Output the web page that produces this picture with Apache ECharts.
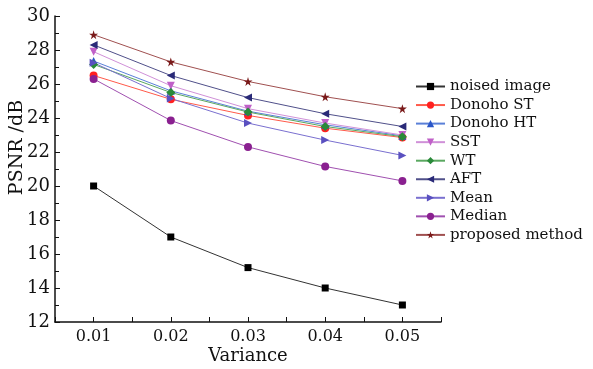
<!DOCTYPE html>
<html>
<head>
<meta charset="utf-8">
<script src="https://cdn.jsdelivr.net/npm/echarts@6/dist/echarts.min.js"></script>
<style>
  html, body { margin: 0; padding: 0; background: #fff; }
  #chart { width: 593px; height: 369px; }
</style>
</head>
<body>
<div id="chart"></div>
<script>
// variance levels on the x axis
const variances = [0.01, 0.02, 0.03, 0.04, 0.05];

// PSNR (dB) per method
const noisedImage = [20.0, 17.0, 15.2, 14.0, 13.0];
const donohoST = [26.5, 25.1, 24.15, 23.4, 22.85];
const donohoHT = [27.35, 25.6, 24.4, 23.6, 22.95];
const sst = [27.9, 25.9, 24.55, 23.7, 23.0];
const wt = [27.15, 25.5, 24.35, 23.5, 22.9];
const aft = [28.3, 26.5, 25.2, 24.25, 23.5];
const meanFilter = [27.25, 25.15, 23.7, 22.7, 21.8];
const medianFilter = [26.3, 23.85, 22.3, 21.15, 20.3];
const proposed = [28.9, 27.3, 26.15, 25.25, 24.55];

const yTicks = [12, 14, 16, 18, 20, 22, 24, 26, 28, 30];

const font = 'DejaVu Serif';
const star = 'path://M50,0 L61,35 L98,35 L68,57 L79,91 L50,70 L21,91 L32,57 L2,35 L39,35 Z';

function pairs(vals) {
  return variances.map((v, i) => [v, vals[i]]);
}

function line(name, vals, color, lineColor, symbol, size, rotate) {
  return {
    name: name,
    type: 'line',
    data: pairs(vals),
    symbol: symbol,
    symbolSize: size,
    symbolRotate: rotate || 0,
    showAllSymbol: true,
    lineStyle: { color: lineColor, width: 1 },
    itemStyle: { color: color },
    emphasis: { disabled: true },
    animation: false
  };
}

const chart = echarts.init(document.getElementById('chart'));

chart.setOption({
  backgroundColor: '#ffffff',
  animation: false,
  grid: { left: 55, right: 152, top: 16, bottom: 47, containLabel: false, outerBoundsMode: 'none' },
  legend: {
    orient: 'vertical',
    left: 410,
    top: 74,
    itemWidth: 29,
    itemHeight: 9,
    itemGap: 3.55,
    textStyle: { fontFamily: font, fontSize: 15, color: '#111', lineHeight: 14 },
    data: ['noised image', 'Donoho ST', 'Donoho HT', 'SST', 'WT', 'AFT', 'Mean', 'Median', 'proposed method']
  },
  xAxis: {
    type: 'value',
    min: 0.005,
    max: 0.055,
    interval: 0.005,
    name: 'Variance',
    nameLocation: 'middle',
    nameGap: 25,
    nameMoveOverlap: false,
    nameTextStyle: { fontFamily: font, fontSize: 18, color: '#111' },
    axisLine: { lineStyle: { color: '#111', width: 1.5 } },
    axisTick: { inside: true, length: 5, lineStyle: { color: '#111' } },
    axisLabel: {
      fontFamily: font, fontSize: 16, color: '#111', margin: 7,
      formatter: function (v) {
        const k = Math.round(v * 1000);
        return k % 10 === 0 ? (k / 1000).toFixed(2) : '';
      }
    },
    splitLine: { show: false }
  },
  yAxis: {
    type: 'value',
    min: yTicks[0],
    max: yTicks[yTicks.length - 1],
    interval: 2,
    name: 'PSNR /dB',
    nameLocation: 'middle',
    nameGap: 28,
    nameMoveOverlap: false,
    nameTextStyle: { fontFamily: font, fontSize: 19, color: '#111', padding: [0, 0, 0, 43] },
    axisLine: { show: true, lineStyle: { color: '#111', width: 1.5 } },
    axisTick: { inside: true, length: 5, lineStyle: { color: '#111' } },
    minorTick: { show: true, splitNumber: 2, length: 4, lineStyle: { color: '#111' } },
    axisLabel: { fontFamily: font, fontSize: 18, color: '#111', margin: 5 },
    splitLine: { show: false }
  },
  series: [
    line('noised image', noisedImage, '#000000', '#333333', 'rect', 7),
    line('Donoho ST', donohoST, '#ff2020', '#ff5a4a', 'circle', 8),
    line('Donoho HT', donohoHT, '#2a56c8', '#5a80d8', 'triangle', 8),
    line('SST', sst, '#c060c8', '#d090d8', 'triangle', 8, 180),
    line('WT', wt, '#2a8a3a', '#5aa860', 'diamond', 9),
    line('AFT', aft, '#2a2a78', '#50508a', 'triangle', 8, 90),
    line('Mean', meanFilter, '#5a50c0', '#7a70d0', 'triangle', 8, -90),
    line('Median', medianFilter, '#8a2090', '#a050b0', 'circle', 8),
    line('proposed method', proposed, '#7a1a1a', '#a05050', star, 9)
  ]
});
</script>
</body>
</html>
